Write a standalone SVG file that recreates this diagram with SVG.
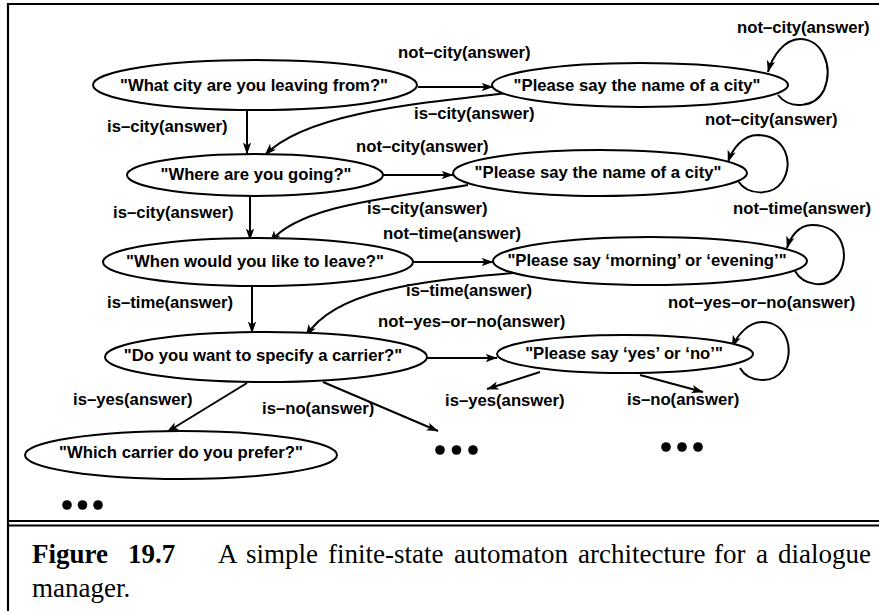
<svg xmlns="http://www.w3.org/2000/svg" width="879" height="611" viewBox="0 0 879 611">
<style>
.node ellipse{fill:#fff;stroke:#000;stroke-width:2}
.nt{font-family:"Liberation Sans",Arial,Helvetica,sans-serif;font-weight:bold;font-size:16.7px;fill:#000;text-anchor:middle}
.lbl{font-family:"Liberation Sans",Arial,Helvetica,sans-serif;font-weight:bold;font-size:16.7px;fill:#000}
.edge{fill:none;stroke:#000;stroke-width:2;marker-end:url(#ah)}
.frame{stroke:#000;stroke-width:2.2;fill:none}
.cap{font-family:"Liberation Serif","Times New Roman",serif;font-size:27px;fill:#000}
.dot{fill:#000}
</style>
<defs>
<marker id="ah" viewBox="0 0 12 10" refX="11.5" refY="5" markerWidth="12" markerHeight="10" markerUnits="userSpaceOnUse" orient="auto">
<path d="M0,0.8 L12,5 L0,9.2 L3,5 z" fill="#000"/>
</marker>
</defs>
<rect width="879" height="611" fill="#fff"/>
<g id="frame">
<path class="frame" d="M8,611 V4 H879"/>
<path class="frame" d="M8,521 H879 M8,525.5 H879"/>
</g>
<g id="connectors">
<path class="edge" d="M247,110 V154"/>
<path class="edge" d="M418,87 H493"/>
<path class="edge" d="M508,93 C410,104 305,114 265,155"/>
<path class="edge" d="M778,95 C790,110 815,108 824,90 C834,66 822,39 800,39 C784,39 772,57 768,72"/>
<path class="edge" d="M382,175 H453"/>
<path class="edge" d="M738,181 C748,196 772,196 782,182 C795,162 785,136 758,135 C742,135 732,150 728,162"/>
<path class="edge" d="M250,196 V240"/>
<path class="edge" d="M468,185 C390,198 300,205 270,242"/>
<path class="edge" d="M413,262 H493"/>
<path class="edge" d="M795,271 C803,285 825,290 838,275 C850,258 845,225 812,225 C798,225 790,238 787,248"/>
<path class="edge" d="M252,286 V333"/>
<path class="edge" d="M513,273 C420,281 335,290 306,336"/>
<path class="edge" d="M427,358 H497"/>
<path class="edge" d="M740,368 C748,382 772,385 783,370 C795,352 788,322 762,322 C748,322 737,336 732,347"/>
<path class="edge" d="M247,383 L167,432"/>
<path class="edge" d="M323,382 L438,431"/>
<path class="edge" d="M540,372 L487,389"/>
<path class="edge" d="M640,375 L703,392"/>
</g>
<g id="edge-labels">
<text class="lbl" x="398" y="58">not–city(answer)</text>
<text class="lbl" x="737" y="33">not–city(answer)</text>
<text class="lbl" x="107" y="132">is–city(answer)</text>
<text class="lbl" x="414" y="119">is–city(answer)</text>
<text class="lbl" x="356" y="152">not–city(answer)</text>
<text class="lbl" x="705" y="125">not–city(answer)</text>
<text class="lbl" x="113" y="218">is–city(answer)</text>
<text class="lbl" x="367" y="214">is–city(answer)</text>
<text class="lbl" x="383" y="239">not–time(answer)</text>
<text class="lbl" x="733" y="214">not–time(answer)</text>
<text class="lbl" x="107" y="308">is–time(answer)</text>
<text class="lbl" x="406" y="296">is–time(answer)</text>
<text class="lbl" x="378" y="327">not–yes–or–no(answer)</text>
<text class="lbl" x="668" y="308">not–yes–or–no(answer)</text>
<text class="lbl" x="73" y="405">is–yes(answer)</text>
<text class="lbl" x="262" y="414">is–no(answer)</text>
<text class="lbl" x="445" y="406">is–yes(answer)</text>
<text class="lbl" x="627" y="405">is–no(answer)</text>
</g>
<g id="n1" class="node"><ellipse cx="255" cy="85" rx="162" ry="25"/><text class="nt" x="254" y="91">"What city are you leaving from?"</text></g>
<g id="n2" class="node"><ellipse cx="640" cy="85" rx="148" ry="22"/><text class="nt" x="637" y="91">"Please say the name of a city"</text></g>
<g id="n3" class="node"><ellipse cx="255" cy="175" rx="128" ry="21"/><text class="nt" x="256" y="180">"Where are you going?"</text></g>
<g id="n4" class="node"><ellipse cx="600" cy="173" rx="147" ry="23"/><text class="nt" x="598" y="178">"Please say the name of a city"</text></g>
<g id="n5" class="node"><ellipse cx="258" cy="262" rx="155" ry="24"/><text class="nt" x="255" y="267">"When would you like to leave?"</text></g>
<g id="n6" class="node"><ellipse cx="650" cy="261" rx="157" ry="24"/><text class="nt" x="647" y="266">"Please say ‘morning’ or ‘evening’"</text></g>
<g id="n7" class="node"><ellipse cx="266" cy="357" rx="161" ry="25"/><text class="nt" x="263" y="361">"Do you want to specify a carrier?"</text></g>
<g id="n8" class="node"><ellipse cx="625" cy="354" rx="128" ry="19"/><text class="nt" x="624" y="359">"Please say ‘yes’ or ‘no’"</text></g>
<g id="n9" class="node"><ellipse cx="181" cy="455" rx="156" ry="24"/><text class="nt" x="181" y="458">"Which carrier do you prefer?"</text></g>
<g id="ellipsis-1"><circle class="dot" cx="440" cy="450" r="4.8"/><circle class="dot" cx="456.5" cy="450" r="4.8"/><circle class="dot" cx="473" cy="450" r="4.8"/></g>
<g id="ellipsis-2"><circle class="dot" cx="666" cy="447" r="4.8"/><circle class="dot" cx="682" cy="447" r="4.8"/><circle class="dot" cx="698" cy="447" r="4.8"/></g>
<g id="ellipsis-3"><circle class="dot" cx="67" cy="505" r="4.8"/><circle class="dot" cx="82.5" cy="505" r="4.8"/><circle class="dot" cx="98" cy="505" r="4.8"/></g>
<g id="caption">
<text class="cap" y="563"><tspan x="32" font-weight="bold">Figure</tspan><tspan x="128" font-weight="bold">19.7</tspan><tspan x="218">A</tspan><tspan x="246">simple</tspan><tspan x="328">finite-state</tspan><tspan x="454">automaton</tspan><tspan x="578">architecture</tspan><tspan x="714">for</tspan><tspan x="756">a</tspan><tspan x="778">dialogue</tspan></text>
<text class="cap" x="32" y="597">manager.</text>
</g>
</svg>
